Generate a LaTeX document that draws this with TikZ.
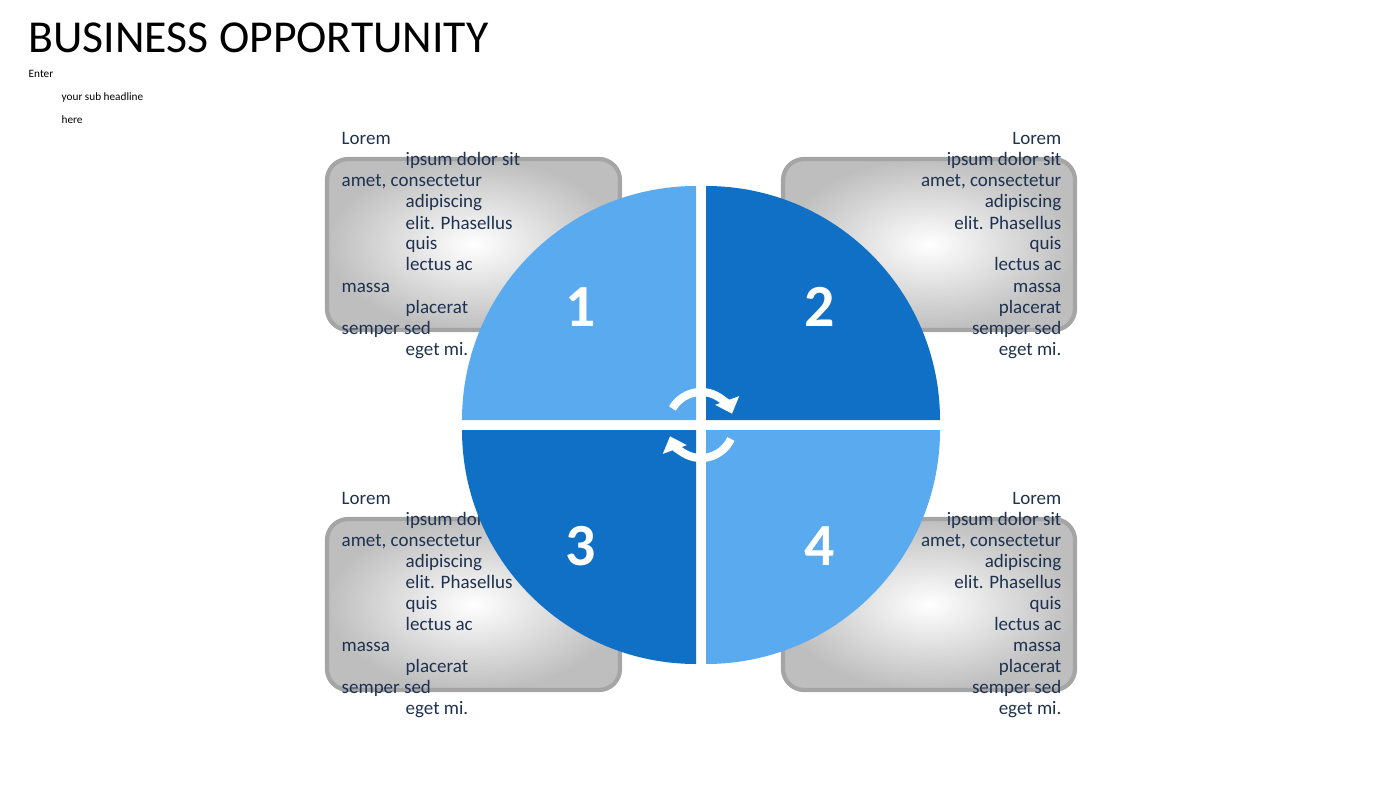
\documentclass[tikz,border=0pt]{standalone}
\usepackage{fontspec}
\setmainfont{Carlito}
\usetikzlibrary{arrows.meta}
\begin{document}
\begin{tikzpicture}[x=0.01cm,y=-0.01cm,
  txt/.style={inner sep=0pt,font=\fontsize{5.4}{6}\selectfont,text=textblue},
  card/.style={draw=cardgray,line width=1.2pt,rounded corners=6pt,inner color=white,outer color=cardfill},
  num/.style={text=white,font=\fontsize{17}{20}\bfseries\selectfont}]

\definecolor{textblue}{RGB}{30,50,80}
\definecolor{cardgray}{RGB}{165,165,165}
\definecolor{cardfill}{RGB}{190,190,190}
\definecolor{lightblue}{RGB}{90,170,240}
\definecolor{darkblue}{RGB}{16,112,198}
\useasboundingbox (0,0) rectangle (1400,788);

% title
\node[anchor=base west,inner sep=0pt,font=\fontsize{13}{15}\selectfont] (title) at (28,53) {BUSINESS OPPORTUNITY};
\node[anchor=base west,inner sep=0pt,font=\fontsize{3.2}{4}\selectfont] (enter) at (28,78) {Enter};
\node[anchor=base west,inner sep=0pt,font=\fontsize{3.2}{4}\selectfont] (sub1) at (61,101) {your sub headline};
\node[anchor=base west,inner sep=0pt,font=\fontsize{3.2}{4}\selectfont] (sub2) at (61,124) {here};

% cards
\path[card] (327,159) rectangle (620,330);
\path[card] (783,159) rectangle (1075,330);
\path[card] (327,519) rectangle (620,690);
\path[card] (783,519) rectangle (1075,690);

% text blocks
\foreach \y in {0,359} {
  \foreach \i/\ind/\t in {0/0/Lorem,1/1/ipsum dolor sit,2/0/{amet, consectetur},3/1/adipiscing,4/1/elit. Phasellus,
      5/1/quis,6/1/lectus ac,7/0/massa,8/1/placerat,9/0/semper sed,10/1/eget mi.}
    \node[txt,anchor=base west] (l\y-\i) at ({341+64*\ind},{145+\y+21*\i}) {\t};
}
\foreach \y in {0,359} {
  \foreach \i/\t in {0/Lorem,1/ipsum dolor sit,2/{amet, consectetur},3/adipiscing,4/elit. Phasellus,
      5/quis,6/lectus ac,7/massa,8/placerat,9/semper sed,10/eget mi.}
    \node[txt,anchor=base east] (r\y-\i) at (1062,{145+\y+21*\i}) {\t};
}

% circle quarters
\coordinate (c) at (701,425);
\fill[lightblue] (696,420) -- ++(-234,0) arc[start angle=180,end angle=270,radius=234] -- cycle;
\fill[darkblue] (706,420) -- ++(0,-234) arc[start angle=270,end angle=360,radius=234] -- cycle;
\fill[darkblue] (696,430) -- ++(0,234) arc[start angle=90,end angle=180,radius=234] -- cycle;
\fill[lightblue] (706,430) -- ++(234,0) arc[start angle=0,end angle=90,radius=234] -- cycle;
\node[num] (n1) at (581,307) {1};
\node[num] (n2) at (820,307) {2};
\node[num] (n3) at (581,546) {3};
\node[num] (n4) at (820,546) {4};

% cycle arrows
\draw[white,line width=2.3pt,-{Triangle[length=4pt,width=7pt]}] (c) ++(-150:33) arc[start angle=-150,end angle=-20,radius=33];
\draw[white,line width=2.3pt,-{Triangle[length=4pt,width=7pt]}] (c) ++(25:33) arc[start angle=25,end angle=160,radius=33];

\end{tikzpicture}
\end{document}
